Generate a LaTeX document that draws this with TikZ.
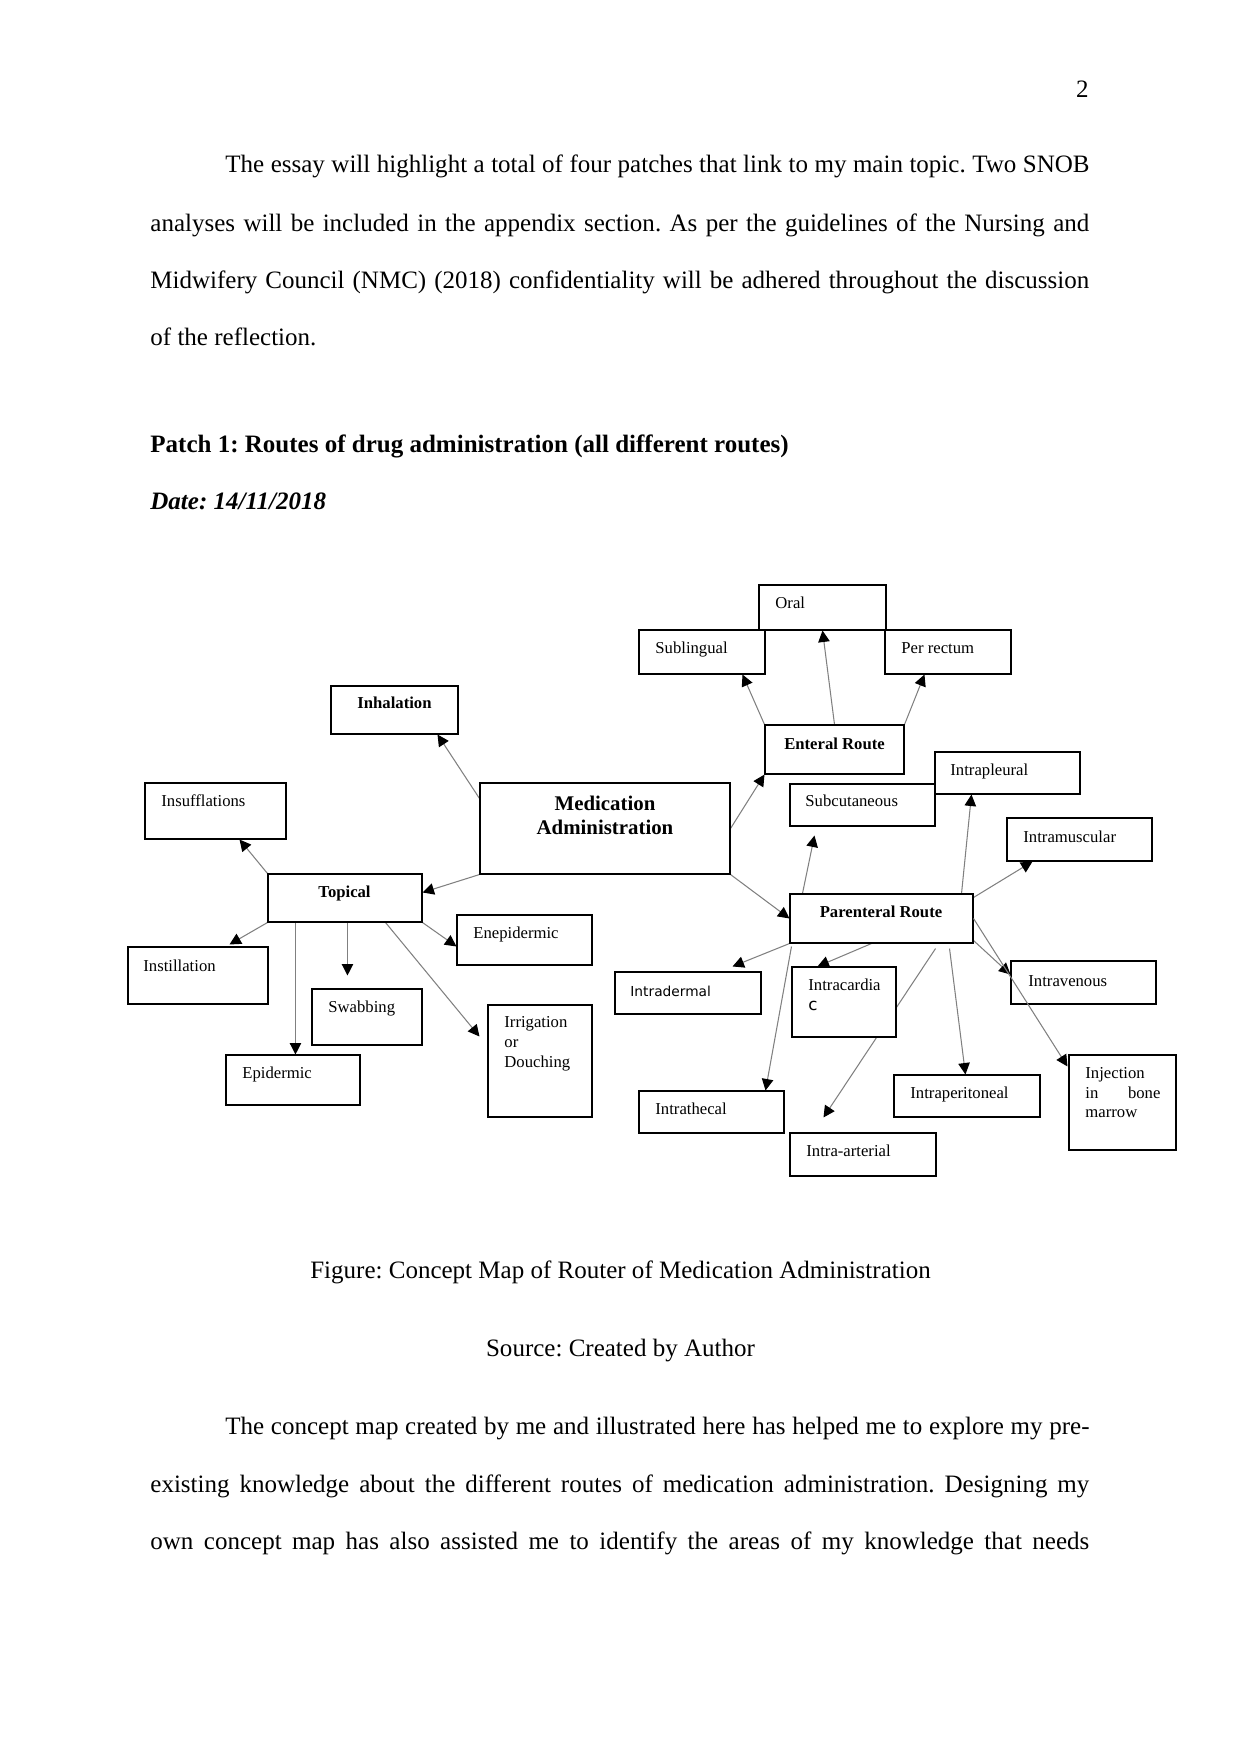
\documentclass[tikz,border=0pt]{standalone}
\usepackage{fontspec}
\setmainfont{Liberation Serif}
\newfontfamily\sansf{DejaVu Sans}
\usetikzlibrary{arrows.meta,calc,fit,backgrounds}
\frenchspacing
\tikzset{
    concept/.style={draw, fill=white, line width=0.5pt, inner sep=0pt},
    term/.style={anchor=base west, inner sep=0pt, font=\fontsize{8}{9.4}\selectfont},
    head/.style={anchor=base, inner sep=0pt, font=\fontsize{8}{9.4}\selectfont\bfseries},
    body/.style={anchor=base west, inner sep=0pt, font=\fontsize{12}{14}\selectfont},
    link/.style={draw=black!50, line width=0.5pt, -{Triangle[length=5.5pt, width=5.5pt, color=black]}}
}

\begin{document}
\begin{tikzpicture}[x=0.4797pt, y=-0.4797pt]
    \useasboundingbox (0,0) rectangle (1241,1754);

    % Page text
    \node[body, anchor=base east] (pagenum) at (1089,98) {2};
    \node[body] (para1a) at (225,173) {\makebox[414.5pt][s]{The essay will highlight a total of four patches that link to my main topic. Two SNOB}};
    \node[body] (para1b) at (150,231) {\makebox[450.4pt][s]{analyses will be included in the appendix section. As per the guidelines of the Nursing and}};
    \node[body] (para1c) at (150,288) {\makebox[450.4pt][s]{Midwifery Council (NMC) (2018) confidentiality will be adhered throughout the discussion}};
    \node[body] (para1d) at (150,345) {of the reflection.};
    \node[body, font=\fontsize{12}{14}\selectfont\bfseries] (patch) at (150,452) {Patch 1: Routes of drug administration (all different routes)};
    \node[body, font=\fontsize{12}{14}\selectfont\bfseries\itshape] (date) at (150,509) {Date: 14/11/2018};

    % Boxes
    \node[concept, fit={(759,585) (886,630)}] (oral) {};
    \node[concept, fit={(639,630) (765,674)}] (subl) {};
    \node[concept, fit={(885,630) (1011,674)}] (rect) {};
    \node[concept, fit={(331,686) (458,734)}] (inh) {};
    \node[concept, fit={(765,725) (904,774)}] (ent) {};
    \node[concept, fit={(935,752) (1080,794)}] (pleu) {};
    \node[concept, fit={(145,783) (286,839)}] (insuf) {};
    \node[concept, fit={(480,783) (730,874)}] (med) {};
    \node[concept, fit={(790,784) (935,826)}] (subc) {};
    \node[concept, fit={(1007,818) (1152,861)}] (musc) {};
    \node[concept, fit={(268,874) (422,922)}] (top) {};
    \node[concept, fit={(790,894) (973,943)}] (par) {};
    \node[concept, fit={(457,915) (592,965)}] (enep) {};
    \node[concept, fit={(128,947) (268,1004)}] (inst) {};
    \node[concept, fit={(1011,961) (1156,1004)}] (ven) {};
    \node[concept, fit={(615,972) (761,1014)}] (derm) {};
    \node[concept, fit={(792,967) (896,1037)}] (card) {};
    \node[concept, fit={(312,989) (422,1045)}] (swab) {};
    \node[concept, fit={(488,1005) (592,1117)}] (irr) {};
    \node[concept, fit={(226,1055) (360,1105)}] (epid) {};
    \node[concept, fit={(1069,1055) (1176,1150)}] (bone) {};
    \node[concept, fit={(894,1075) (1040,1117)}] (perit) {};
    \node[concept, fit={(639,1091) (784,1133)}] (theca) {};
    \node[concept, fit={(790,1133) (936,1176)}] (arter) {};

    % Labels
    \node[term] (oral-t) at (775,608) {Oral};
    \node[term] (subl-t) at (655,653) {Sublingual};
    \node[term] (rect-t) at (901,653) {Per rectum};
    \node[head] (inh-t) at (394.5,708) {Inhalation};
    \node[head] (ent-t) at (834.5,749) {Enteral Route};
    \node[term] (pleu-t) at (950,775) {Intrapleural};
    \node[term] (insuf-t) at (161,806) {Insufflations};
    \node[head, anchor=north, align=center, font=\fontsize{10}{11.5}\selectfont\bfseries] (med-t) at (605,796) {Medication\\Administration};
    \node[term] (subc-t) at (805,806) {Subcutaneous};
    \node[term] (musc-t) at (1023,842) {Intramuscular};
    \node[head] (top-t) at (344.5,897) {Topical};
    \node[head] (par-t) at (881,917) {Parenteral Route};
    \node[term] (enep-t) at (473,938) {Enepidermic};
    \node[term] (inst-t) at (143,971) {Instillation};
    \node[term] (ven-t) at (1028,986) {Intravenous};
    \node[term, font=\sansf\fontsize{6.6}{8}\selectfont] (derm-t) at (630,996) {Intradermal};
    \node[term, anchor=north west, align=left] (card-t) at (808,979) {Intracardia\\{\sansf c}};
    \node[term] (swab-t) at (328,1012) {Swabbing};
    \node[term, anchor=north west, align=left] (irr-t) at (504,1016.5) {Irrigation\\or\\Douching};
    \node[term] (epid-t) at (242,1078) {Epidermic};
    \node[term, anchor=north west, align=left] (bone-t) at (1085,1067) {Injection\\\makebox[36pt][s]{in bone}\\marrow};
    \node[term] (perit-t) at (910,1098) {Intraperitoneal};
    \node[term] (theca-t) at (655,1114) {Intrathecal};
    \node[term] (arter-t) at (806,1156) {Intra-arterial};

    % edges
    \begin{scope}[on background layer]
        \fill[white] (0,0) rectangle (1241,1754);
        \draw[link] ($(med.north west)+(0,16)$) -- ($(inh.south east)+(-21,0)$);
        \draw[link] (med.south west) -- ($(top.north east)+(0,19)$);
        \draw[link] (med.east) -- (ent.south west);
        \draw[link] (med.south east) -- (par.west);
        \draw[link] (ent.north west) -- ($(subl.south east)+(-23,0)$);
        \draw[link] (ent.north) -- (oral.south);
        \draw[link] (ent.north east) -- ($(rect.south west)+(40,0)$);
        \draw[link] ($(par.north west)+(13,0)$) -- ($(subc.south west)+(25,9)$);
        \draw[link] ($(par.north east)+(-12,0)$) -- ($(pleu.south west)+(37,0)$);
        \draw[link] ($(par.north east)+(0,4)$) -- ($(musc.south west)+(26,0)$);
        \draw[link] (par.south west) -- ($(derm.north east)+(-29,-5)$);
        \draw[link] ($(par.south west)+(82,0)$) -- ($(card.north west)+(26,0)$);
        \draw[link] ($(par.south west)+(2,3)$) -- ($(theca.north east)+(-19,0)$);
        \draw[link] ($(par.south east)+(-38,5)$) -- ($(arter.north west)+(34,-15)$);
        \draw[link] ($(par.south east)+(-24,5)$) -- ($(perit.north west)+(72,0)$);
        \draw[link] ($(par.south east)+(0,-3)$) -- ($(ven.north west)+(0,14)$);
        \draw[link] (top.north west) -- ($(insuf.south east)+(-47,0)$);
        \draw[link] (top.south west) -- ($(inst.north west)+(102,-2)$);
        \draw[link] ($(top.south west)+(28,0)$) -- ($(epid.north west)+(70,0)$);
        \draw[link] ($(top.south west)+(80,0)$) -- ($(swab.north west)+(36,-13)$);
        \draw[link] ($(top.south east)+(-37,0)$) -- ($(irr.north west)+(-8,32)$);
        \draw[link] (top.south east) -- ($(enep.north west)+(0,32)$);
    \end{scope}
    \draw[link] (par.east) -- ($(bone.north west)+(-1,12)$);

    % Caption
    \node[body, anchor=base] (caption) at (620.5,1278) {Figure: Concept Map of Router of Medication Administration};
    \node[body, anchor=base] (source) at (620.5,1356) {Source: Created by Author};
    \node[body] (para2a) at (225,1434) {\makebox[414.5pt][s]{The concept map created by me and illustrated here has helped me to explore my pre-}};
    \node[body] (para2b) at (150,1492) {\makebox[450.4pt][s]{existing knowledge about the different routes of medication administration. Designing my}};
    \node[body] (para2c) at (150,1549) {\makebox[450.4pt][s]{own concept map has also assisted me to identify the areas of my knowledge that needs}};
\end{tikzpicture}
\end{document}
